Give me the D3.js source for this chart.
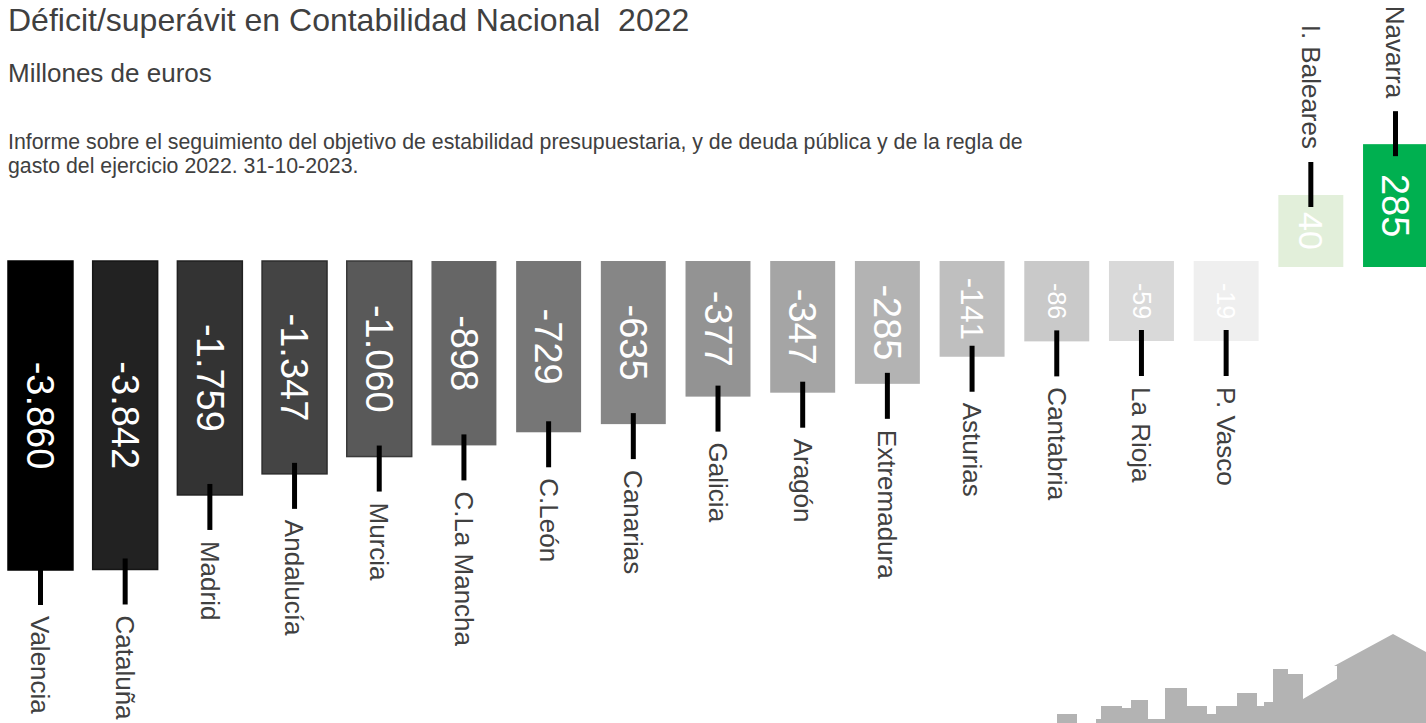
<!DOCTYPE html>
<html>
<head>
<meta charset="utf-8">
<script src="https://cdn.jsdelivr.net/npm/d3@7"></script>
<style>
  html, body { margin: 0; padding: 0; background: #fff; }
  svg { display: block; }
  text { font-family: "Liberation Sans", Arial, Helvetica, sans-serif; }
</style>
</head>
<body>
<svg id="chart" width="1426" height="723"></svg>
<script>
// ---- data ----
const regiones = ["Valencia", "Cataluña", "Madrid", "Andalucía", "Murcia", "C.La Mancha", "C.León",
  "Canarias", "Galicia", "Aragón", "Extremadura", "Asturias", "Cantabria", "La Rioja", "P. Vasco",
  "I. Baleares", "Navarra"];
const saldo = [-3860, -3842, -1759, -1347, -1060, -898, -729, -635, -377, -347, -285, -141, -86, -59, -19, 40, 285];
const colores = ["#000000", "#222222", "#333333", "#444444", "#595959", "#666666", "#767676", "#868686",
  "#939393", "#a5a5a5", "#b3b3b3", "#bfbfbf", "#c9c9c9", "#d9d9d9", "#efefef", "#e2efda", "#00b050"];
const titulo = "Déficit/superávit en Contabilidad Nacional\u00a0\u00a02022";
const subtitulo = "Millones de euros";
const fuente = ["Informe sobre el seguimiento del objetivo de estabilidad presupuestaria, y de deuda pública y de la regla de",
  "gasto del ejercicio 2022. 31-10-2023."];

// ---- setup ----
const svg = d3.select("#chart");
const data = regiones.map((r, i) => ({ region: r, valor: saldo[i], i }));
const es = d3.formatLocale({ decimal: ",", thousands: ".", grouping: [3], currency: ["", " €"], minus: "-" });
const fmt = es.format(",d");

const x = d3.scaleBand().domain(regiones).range([8, 1428]).paddingInner(0.233).paddingOuter(0);
const h = d3.scalePow().exponent(0.354).domain([0, 3860]).range([0, 309]);
const color = d3.scaleOrdinal(regiones, colores);
const y0Neg = 261, y0Pos = 267;
const minNeg = 80, minPos = 72;
const txt = "#404040";

function barH(d) { return Math.max(h(Math.abs(d.valor)), d.valor < 0 ? minNeg : minPos); }
function barTop(d) { return d.valor < 0 ? y0Neg : y0Pos - barH(d); }
function barBottom(d) { return d.valor < 0 ? y0Neg + barH(d) : y0Pos; }
function cx(d) { return x(d.region) + x.bandwidth() / 2; }
function valFont(d) {
  const a = Math.abs(d.valor);
  if (d.valor > 0) return a >= 200 ? 38 : 34;
  return a >= 200 ? 38 : (a >= 100 ? 31 : 25);
}

// ---- titles ----
svg.append("text").attr("x", 8).attr("y", 31).attr("font-size", 32).attr("fill", txt).text(titulo);
svg.append("text").attr("x", 8).attr("y", 82).attr("font-size", 26).attr("fill", txt).text(subtitulo);
svg.append("g").selectAll("text").data(fuente).join("text")
  .attr("x", 8).attr("y", (d, i) => 149 + i * 24)
  .attr("font-size", 21.3).attr("fill", txt).text(d => d);

// ---- logo (decorative skyline) ----
svg.append("path")
  .attr("fill", "#b3b3b3")
  .attr("d", "M1057,714H1077V723H1057Z M1096,723V719H1101V706H1122V708H1131V700H1148V719H1165V688H1187V706H1207V714H1216V706H1237V693H1257V706H1264V702H1273V669H1288V674H1303V699L1337,679V666H1334L1393,634L1426,652V723Z");

// ---- bars ----
const g = svg.append("g");
g.selectAll("rect").data(data).join("rect")
  .attr("x", d => x(d.region))
  .attr("width", x.bandwidth())
  .attr("y", d => barTop(d))
  .attr("height", d => barH(d))
  .attr("fill", d => color(d.region))
  .attr("stroke", d => d.i < 5 ? d3.color(color(d.region)).darker(1.2) : "none")
  .attr("stroke-width", 1.5);

// values
g.selectAll("text.val").data(data).join("text").attr("class", "val")
  .attr("transform", d => `translate(${cx(d)},${(barTop(d) + barBottom(d)) / 2}) rotate(90)`)
  .attr("text-anchor", "middle").attr("dy", "0.35em")
  .attr("font-size", d => valFont(d))
  .attr("fill", "#ffffff")
  .text(d => fmt(d.valor));

// leader lines
g.selectAll("line.lead").data(data).join("line").attr("class", "lead")
  .attr("x1", d => cx(d))
  .attr("x2", d => cx(d))
  .attr("y1", d => d.valor < 0 ? barBottom(d) - 11 : barTop(d) - 33)
  .attr("y2", d => d.valor < 0 ? barBottom(d) + 35 : barTop(d) + 12)
  .attr("stroke", "#000").attr("stroke-width", 5);

// region labels
g.selectAll("text.lab").data(data).join("text").attr("class", "lab")
  .attr("transform", d => `translate(${cx(d)},${d.valor < 0 ? barBottom(d) + 46 : barTop(d) - 46}) rotate(90)`)
  .attr("text-anchor", d => d.valor < 0 ? "start" : "end")
  .attr("dy", "0.35em")
  .attr("font-size", 26)
  .attr("fill", txt)
  .text(d => d.region);
</script>
</body>
</html>
